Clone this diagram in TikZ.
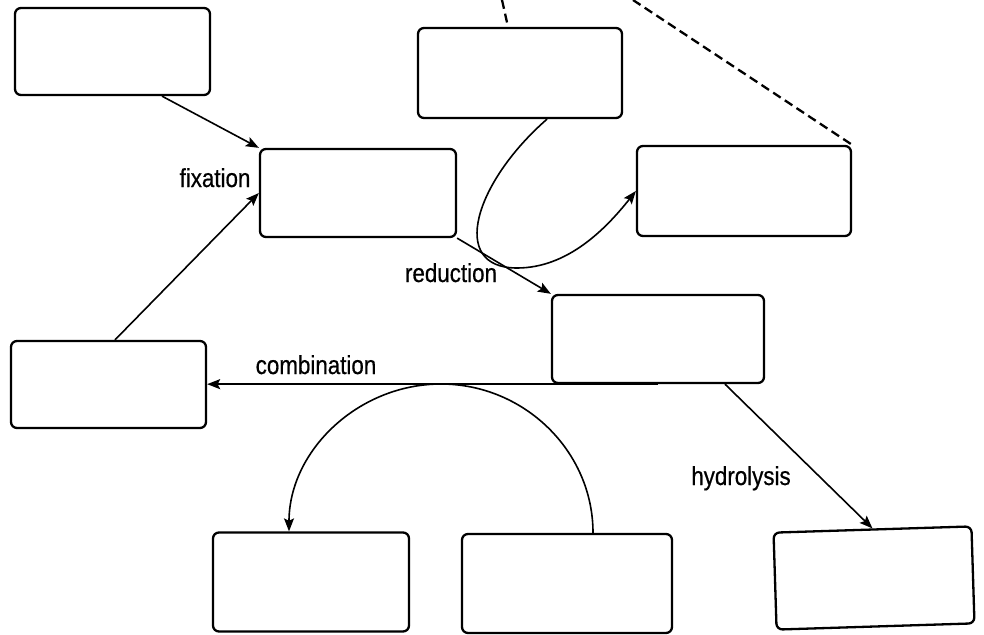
\documentclass[tikz,border=0pt]{standalone}
\usepackage{fontspec}
\setmainfont{Liberation Sans}[FakeStretch=0.86, FakeBold=0.6]
\usetikzlibrary{arrows.meta}
\tikzset{
  box/.style={draw=black, line width=2.3pt, rounded corners=6pt, fill=white, inner sep=0pt},
  conn/.style={draw=black, line width=1.6pt, -{Stealth[length=13pt,width=10pt,inset=2.5pt]}},
  dashconn/.style={draw=black, line width=2.3pt, dash pattern=on 9pt off 5pt},
  lbl/.style={anchor=base, inner sep=0pt, font=\fontsize{26}{31}\selectfont}
}
\begin{document}
\begin{tikzpicture}[x=1pt, y=-1pt]
\useasboundingbox (0,0) rectangle (984,634);
% boxes
\node[box, minimum width=195pt, minimum height=87pt] (A) at (112.5,51.5) {};
\node[box, minimum width=204pt, minimum height=90pt] (B) at (520,73) {};
\node[box, minimum width=196pt, minimum height=88pt] (C) at (358,193) {};
\node[box, minimum width=214pt, minimum height=90pt] (D) at (744,191) {};
\node[box, minimum width=212pt, minimum height=88pt] (E) at (658,339) {};
\node[box, minimum width=195pt, minimum height=87pt] (F) at (108.5,384.5) {};
\node[box, minimum width=196pt, minimum height=99pt] (G) at (311,582) {};
\node[box, minimum width=210pt, minimum height=99pt] (H) at (567,583.5) {};
\node[box, minimum width=198pt, minimum height=97pt, rotate=1.8] (I) at (874,578) {};
% free ends at the top edge
\coordinate (t1) at (502,0);
\coordinate (t2) at (633,0);
% dashed lines
\draw[dashconn] (t1) -- ([xshift=-12pt]B.north);
\draw[dashconn] (t2) -- (D.north east);
% connectors
\draw[conn] ([xshift=49.5pt]A.south) -- (C.north west);
\draw[conn] ([xshift=6.5pt]F.north) -- (C.west);
\draw[conn] (C.south east) -- (E.north west);
\draw[conn] ([xshift=27pt]B.south) .. controls (475,182) and (448,268) .. (517,268)
   .. controls (567,268) and (605,230) .. (D.west);
\draw[conn] (E.south) -- (F.east |- E.south);
\draw[conn] ([xshift=26pt]H.north) .. controls (593,451) and (524,384) .. (441,384)
   .. controls (358,384) and (289,451) .. ([xshift=-22pt]G.north);
\draw[conn] ([xshift=67pt]E.south) -- (I.north);
% labels
\node[lbl] (lfix) at (215,187) {fixation};
\node[lbl] (lred) at (451,282) {reduction};
\node[lbl] (lcomb) at (316,374) {combination};
\node[lbl] (lhyd) at (741,485) {hydrolysis};
\end{tikzpicture}
\end{document}
